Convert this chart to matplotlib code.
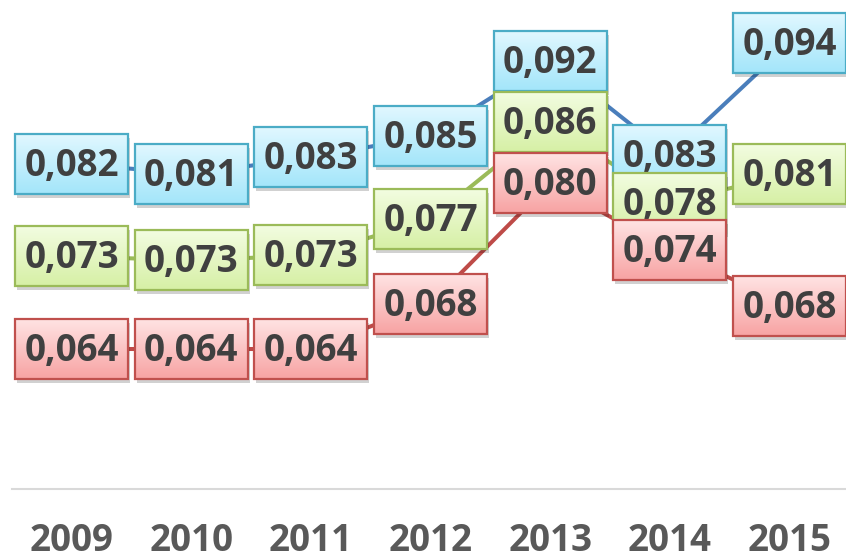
import numpy as np
import matplotlib
matplotlib.use("Agg")
import matplotlib.pyplot as plt
from matplotlib.patches import Rectangle

years = ["2009", "2010", "2011", "2012", "2013", "2014", "2015"]
blue_vals = [0.0820, 0.0810, 0.0826, 0.0847, 0.0920, 0.0828, 0.0937]
green_vals = [0.0730, 0.0726, 0.0731, 0.0766, 0.0860, 0.0782, 0.0810]
red_vals = [0.0640, 0.0640, 0.0640, 0.0684, 0.0801, 0.0736, 0.0682]

series = [
    # values, line colour, border colour, grad top, grad bottom
    (blue_vals, "#4a7ebb", "#4bacc6", (0.88, 0.97, 1.00), (0.64, 0.90, 0.98)),
    (green_vals, "#9bbb59", "#9bbb59", (0.95, 0.99, 0.88), (0.84, 0.94, 0.65)),
    (red_vals, "#be4b48", "#c0504d", (1.00, 0.89, 0.89), (0.97, 0.64, 0.64)),
]

W, H, DPI = 846, 560, 100
fig = plt.figure(figsize=(W / DPI, H / DPI), dpi=DPI)
fig.patch.set_facecolor("white")

ax_left, ax_right = 11.7, 849.3
ax_top, ax_bottom = 0.0, 489.0
ax = fig.add_axes([ax_left / W, (H - ax_bottom) / H,
                   (ax_right - ax_left) / W, (ax_bottom - ax_top) / H])

ymin, ymax = 0.05041, 0.09788
xmin, xmax = -0.5, len(years) - 0.5
ax.set_xlim(xmin, xmax)
ax.set_ylim(ymin, ymax)

x = np.arange(len(years))
for vals, lc, bc, gt, gb in series:
    ax.plot(x, vals, color=lc, lw=2.9, solid_capstyle="butt", zorder=2)

px_x = (xmax - xmin) / (ax_right - ax_left)
px_y = (ymax - ymin) / (ax_bottom - ax_top)
box_w, box_h = 113, 60
hw, hh = box_w / 2 * px_x, box_h / 2 * px_y

grad = np.linspace(0, 1, 64)[:, None]

z = 10
for vals, lc, bc, gt, gb in series:
    top = np.array(gt)
    bot = np.array(gb)
    img = top[None, None, :] * (1 - grad[:, :, None]) + bot[None, None, :] * grad[:, :, None]
    for xi, v in zip(x, vals):
        ax.add_patch(Rectangle((xi - hw + 2 * px_x, v - hh - 4 * px_y), 2 * hw, 2 * hh,
                               facecolor="black", alpha=0.18, edgecolor="none",
                               zorder=z, clip_on=False))
        ax.imshow(img, extent=[xi - hw, xi + hw, v - hh, v + hh], origin="upper",
                  aspect="auto", zorder=z + 1, interpolation="bilinear", clip_on=False)
        ax.add_patch(Rectangle((xi - hw, v - hh), 2 * hw, 2 * hh, facecolor="none",
                               edgecolor=bc, lw=1.6, zorder=z + 2, clip_on=False))
        ax.text(xi, v - 2 * px_y, f"{v:.3f}".replace(".", ","), ha="center", va="center",
                fontsize=26.5, fontweight="bold", color="#404040",
                family=["Open Sans", "DejaVu Sans"], zorder=z + 3)
        z += 4

ax.set_xlim(xmin, xmax)
ax.set_ylim(ymin, ymax)

for s in ["left", "right", "top"]:
    ax.spines[s].set_visible(False)
ax.spines["bottom"].set_color("#d9d9d9")
ax.spines["bottom"].set_linewidth(1.5)
ax.set_yticks([])
ax.set_xticks(x)
ax.set_xticklabels(years, fontsize=26.5, fontweight="bold", color="#595959",
                   family=["Open Sans", "DejaVu Sans"])
ax.tick_params(axis="x", length=0, pad=23.5)
ax.set_facecolor("none")

fig.savefig("out.png", dpi=DPI, facecolor="white")
